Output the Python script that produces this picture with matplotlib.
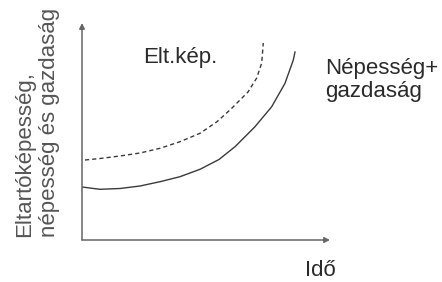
import numpy as np
import matplotlib
matplotlib.use('Agg')
import matplotlib.pyplot as plt

plt.rcParams['font.family'] = ['Liberation Sans', 'DejaVu Sans']

# curves (time, value) in arbitrary units
elt_time = [3, 18, 38, 58, 78, 98, 118, 135, 149, 166, 174.7, 179.7, 181.3]
elt_value = [80, 81.5, 84, 87, 91.7, 98.3, 106.7, 118.3, 131, 148, 162, 177, 197]

nep_time = [0, 18, 38, 58, 78, 98, 118, 137, 153, 173, 189.7, 203, 211.3, 213]
nep_value = [53, 50.7, 51.5, 54, 58.3, 63.3, 70.7, 80.5, 93.3, 113.3, 133.3,
             156.7, 180, 188]

ylabel = 'Eltartóképesség,\nnépesség és gazdaság'
xlabel = 'Idő'
label_elt = 'Elt.kép.'
label_nep = 'Népesség+\ngazdaság'

W, H = 442, 282
fig = plt.figure(figsize=(W / 100, H / 100), dpi=100)

# axes box: corner at (82, 240) px, x arrow tip at 330, y arrow tip at 23
ax = fig.add_axes([82 / W, (H - 240) / H, (330 - 82) / W, (240 - 23) / H])
ax.set_xlim(0, 248)
ax.set_ylim(0, 217)
ax.axis('off')

axis_col = '#666666'
ax.annotate('', xy=(1, 0), xytext=(0, 0), xycoords='axes fraction',
            arrowprops=dict(arrowstyle='-|>', color=axis_col, lw=1.1,
                            mutation_scale=8, shrinkA=0, shrinkB=0))
ax.annotate('', xy=(0, 1), xytext=(0, 0), xycoords='axes fraction',
            arrowprops=dict(arrowstyle='-|>', color=axis_col, lw=1.1,
                            mutation_scale=8, shrinkA=0, shrinkB=0))

line_col = '#3a3a3a'
ax.plot(elt_time, elt_value, color=line_col, lw=1.0, linestyle=(0, (3, 2.2)),
        solid_joinstyle='round')
ax.plot(nep_time, nep_value, color=line_col, lw=1.0, solid_joinstyle='round')

fs = 16
fig.text(37 / W, (H - 237) / H, ylabel, rotation=90, ha='center', va='bottom',
         multialignment='left', fontsize=fs, color='#555555', linespacing=1.25)
fig.text(143 / W, (H - 63) / H, label_elt, ha='left', va='baseline',
         fontsize=fs, color='#2a2a2a')
fig.text(325 / W, (H - 58) / H, label_nep, ha='left', va='top',
         fontsize=fs, color='#2a2a2a', linespacing=1.15)
fig.text(305 / W, (H - 276) / H, xlabel, ha='left', va='baseline',
         fontsize=fs, color='#2a2a2a')

fig.savefig('out.png', dpi=100)
